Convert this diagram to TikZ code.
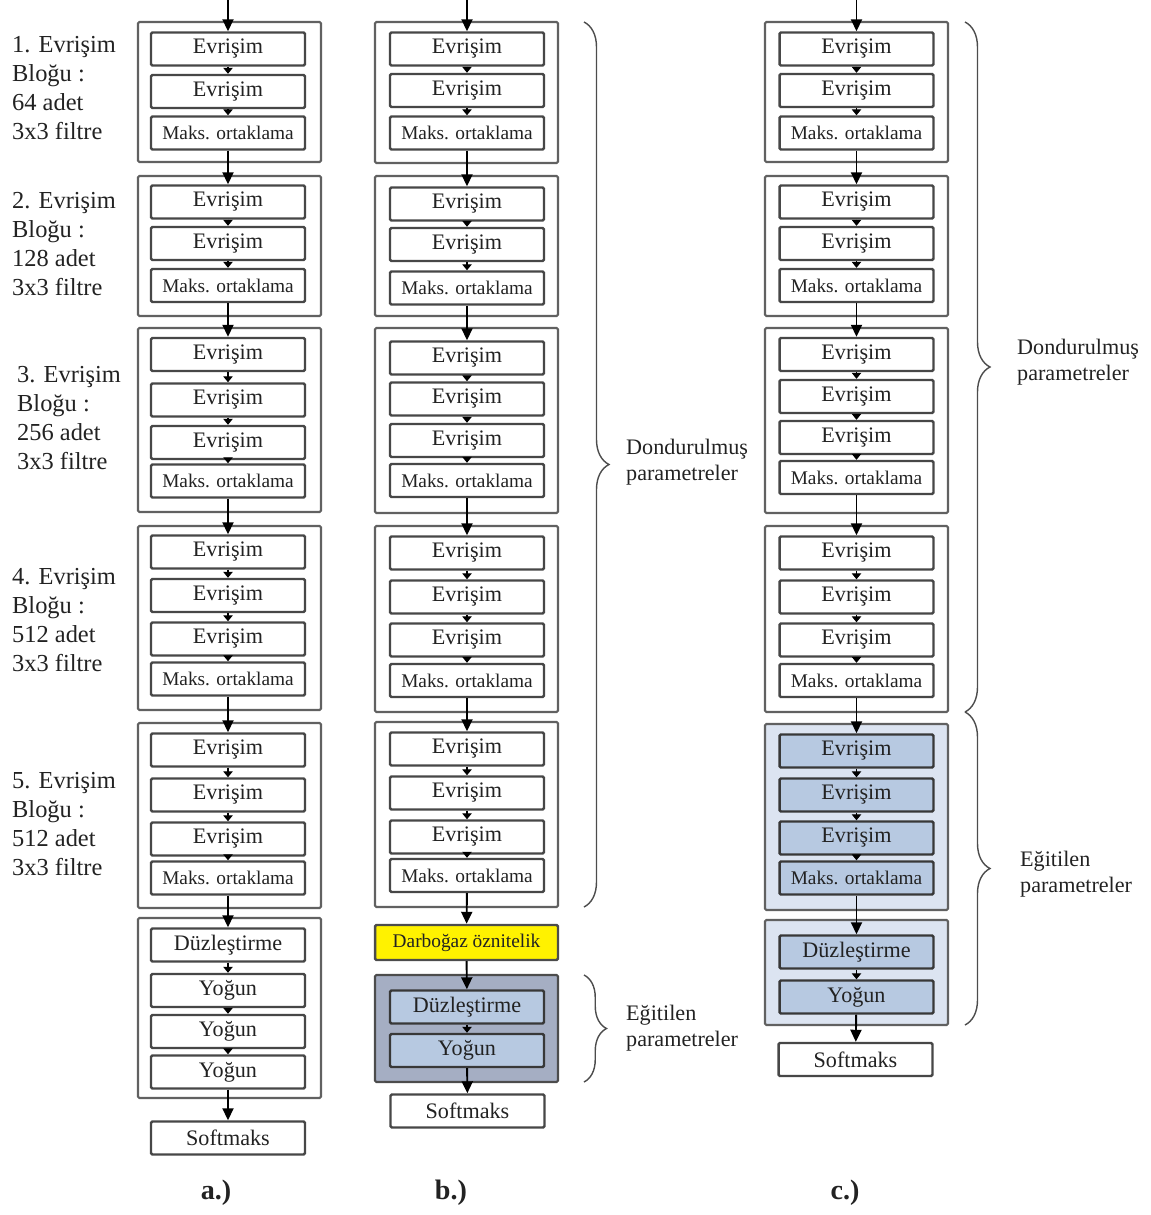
\documentclass[tikz,border=0pt]{standalone}
\usepackage{fontspec}
\setmainfont{Liberation Serif}
\usetikzlibrary{arrows.meta,decorations.pathreplacing}

\definecolor{slate}{HTML}{A5AEC3}
\definecolor{paleblue}{HTML}{DCE4F1}
\definecolor{iceblue}{HTML}{B7C9E1}
\definecolor{ink}{HTML}{222222}

\begin{document}
\begin{tikzpicture}[
  x=0.02cm, y=-0.02cm,
  lay/.style={rectangle, draw=black!72, line width=1.4pt, rounded corners=0.8pt, fill=white, text=ink, minimum width=3.08cm, minimum height=0.66cm, inner sep=0pt, font=\fontsize{12.6}{14}\selectfont},
  pool/.style={lay, font=\fontsize{11}{13}\selectfont},
  blk/.style={rectangle, draw=black!62, line width=1.2pt, rounded corners=0.8pt, fill=white, minimum width=3.66cm, inner sep=0pt},
  arrow/.style={-{Triangle[length=2.4mm, width=2.2mm]}, line width=1.1pt},
  tick/.style={-{Triangle[length=1.2mm, width=1.9mm]}, line width=0.6pt},
  note/.style={anchor=west, align=left, text=ink, font=\fontsize{13.9}{16.5}\selectfont},
  side/.style={anchor=west, align=left, text=ink, font=\fontsize{12.6}{14.5}\selectfont},
  brace/.style={decorate, decoration={brace, amplitude=0.5cm}, draw=black!70, line width=0.8pt},
  tag/.style={font=\fontsize{16}{18}\selectfont\bfseries, text=ink},
]
\useasboundingbox (0,0) rectangle (1151,1215);

% === a.) full network ===
\node[blk, minimum height=2.8cm] (aB1) at (229.5,92) {};
\node[blk, minimum height=2.8cm] (aB2) at (229.5,246) {};
\node[blk, minimum height=3.68cm] (aB3) at (229.5,420) {};
\node[blk, minimum height=3.68cm] (aB4) at (229.5,618) {};
\node[blk, minimum height=3.7cm] (aB5) at (229.5,815.5) {};
\node[blk, minimum height=3.6cm] (aB6) at (229.5,1008) {};

\node[lay] (a11) at (228,49) {Evrişim};
\node[lay] (a12) at (228,91.5) {Evrişim};
\node[pool] (a13) at (228,133) {Maks. ortaklama};
\node[lay] (a21) at (228,202) {Evrişim};
\node[lay] (a22) at (228,243.5) {Evrişim};
\node[pool] (a23) at (228,285.5) {Maks. ortaklama};
\node[lay] (a31) at (228,354.5) {Evrişim};
\node[lay] (a32) at (228,400) {Evrişim};
\node[lay] (a33) at (228,442.5) {Evrişim};
\node[pool] (a34) at (228,481) {Maks. ortaklama};
\node[lay] (a41) at (228,552) {Evrişim};
\node[lay] (a42) at (228,595.5) {Evrişim};
\node[lay] (a43) at (228,639) {Evrişim};
\node[pool] (a44) at (228,679) {Maks. ortaklama};
\node[lay] (a51) at (228,750) {Evrişim};
\node[lay] (a52) at (228,795) {Evrişim};
\node[lay] (a53) at (228,839) {Evrişim};
\node[pool] (a54) at (228,878) {Maks. ortaklama};
\node[lay] (a61) at (228,945) {Düzleştirme};
\node[lay] (a62) at (228,990.5) {Yoğun};
\node[lay] (a63) at (228,1031.5) {Yoğun};
\node[lay] (a64) at (228,1072) {Yoğun};
\node[lay] (asm) at (228,1138) {Softmaks};
\coordinate (ain) at (228,0);

\draw[tick] (a11) -- (a12); \draw[tick] (a12) -- (a13);
\draw[tick] (a21) -- (a22); \draw[tick] (a22) -- (a23);
\draw[tick] (a31) -- (a32); \draw[tick] (a32) -- (a33); \draw[tick] (a33) -- (a34);
\draw[tick] (a41) -- (a42); \draw[tick] (a42) -- (a43); \draw[tick] (a43) -- (a44);
\draw[tick] (a51) -- (a52); \draw[tick] (a52) -- (a53); \draw[tick] (a53) -- (a54);
\draw[tick] (a61) -- (a62); \draw[tick] (a62) -- (a63); \draw[tick] (a63) -- (a64);
\draw[arrow] (ain) -- (a11);
\draw[arrow] (a13) -- (a21);
\draw[arrow] (a23) -- (a31);
\draw[arrow] (a34) -- (a41);
\draw[arrow] (a44) -- (a51);
\draw[arrow] (a54) -- (a61);
\draw[arrow] (a64) -- (asm);

\node[note] at (6,88) {1. Evrişim\\Bloğu :\\64 adet\\3x3 filtre};
\node[note] at (6,244) {2. Evrişim\\Bloğu :\\128 adet\\3x3 filtre};
\node[note] at (11,418) {3. Evrişim\\Bloğu :\\256 adet\\3x3 filtre};
\node[note] at (6,620) {4. Evrişim\\Bloğu :\\512 adet\\3x3 filtre};
\node[note] at (6,824.5) {5. Evrişim\\Bloğu :\\512 adet\\3x3 filtre};
\node[tag] at (216,1193) {a.)};

% === b.) bottleneck features ===
\node[blk, minimum height=2.82cm] (bB1) at (466.5,92.5) {};
\node[blk, minimum height=2.8cm] (bB2) at (466.5,246) {};
\node[blk, minimum height=3.7cm] (bB3) at (466.5,420.5) {};
\node[blk, minimum height=3.72cm] (bB4) at (466.5,619) {};
\node[blk, minimum height=3.7cm] (bB5) at (466.5,814.5) {};
\node[blk, fill=slate, draw=black!70, minimum height=2.14cm] (bB6) at (466.5,1028.5) {};

\node[lay] (b11) at (467,49) {Evrişim};
\node[lay] (b12) at (467,90.5) {Evrişim};
\node[pool] (b13) at (467,133) {Maks. ortaklama};
\node[lay] (b21) at (467,204) {Evrişim};
\node[lay] (b22) at (467,244.5) {Evrişim};
\node[pool] (b23) at (467,288) {Maks. ortaklama};
\node[lay] (b31) at (467,358) {Evrişim};
\node[lay] (b32) at (467,399) {Evrişim};
\node[lay] (b33) at (467,440.5) {Evrişim};
\node[pool] (b34) at (467,480.5) {Maks. ortaklama};
\node[lay] (b41) at (467,553) {Evrişim};
\node[lay] (b42) at (467,597) {Evrişim};
\node[lay] (b43) at (467,640) {Evrişim};
\node[pool] (b44) at (467,680.5) {Maks. ortaklama};
\node[lay] (b51) at (467,749) {Evrişim};
\node[lay] (b52) at (467,793) {Evrişim};
\node[lay] (b53) at (467,837) {Evrişim};
\node[pool] (b54) at (467,875.5) {Maks. ortaklama};
\node[pool, fill=yellow, draw=black!70, minimum width=3.66cm, minimum height=0.7cm] (bneck) at (466.5,942.5) {Darboğaz öznitelik};
\node[lay, fill=iceblue, draw=black!78] (b61) at (467,1007) {Düzleştirme};
\node[lay, fill=iceblue, draw=black!78] (b62) at (467,1050.5) {Yoğun};
\node[lay] (bsm) at (467.5,1111) {Softmaks};
\coordinate (bin) at (467,0);

\draw[tick] (b11) -- (b12); \draw[tick] (b12) -- (b13);
\draw[tick] (b21) -- (b22); \draw[tick] (b22) -- (b23);
\draw[tick] (b31) -- (b32); \draw[tick] (b32) -- (b33); \draw[tick] (b33) -- (b34);
\draw[tick] (b41) -- (b42); \draw[tick] (b42) -- (b43); \draw[tick] (b43) -- (b44);
\draw[tick] (b51) -- (b52); \draw[tick] (b52) -- (b53); \draw[tick] (b53) -- (b54);
\draw[tick] (b61) -- (b62);
\draw[arrow] (bin) -- (b11);
\draw[arrow] (b13) -- (b21);
\draw[arrow] (b23) -- (b31);
\draw[arrow] (b34) -- (b41);
\draw[arrow] (b44) -- (b51);
\draw[arrow] (b54) -- (bneck);
\draw[arrow] (bneck) -- (b61);
\draw[arrow] (b62) -- (bsm);

\coordinate (bf1) at (584,22);
\coordinate (bf2) at (584,907);
\coordinate (bt1) at (584,975);
\coordinate (bt2) at (584,1082);
\draw[brace] (bf1) -- (bf2);
\draw[brace, decoration={brace, amplitude=0.45cm}] (bt1) -- (bt2);
\node[side] at (620,462) {Dondurulmuş\\parametreler};
\node[side] at (620,1028) {Eğitilen\\parametreler};
\node[tag] at (451,1193) {b.)};

% === c.) fine-tuning ===
\node[blk, minimum height=2.8cm] (cB1) at (856.5,92) {};
\node[blk, minimum height=2.8cm] (cB2) at (856.5,246) {};
\node[blk, minimum height=3.7cm] (cB3) at (856.5,420.5) {};
\node[blk, minimum height=3.72cm] (cB4) at (856.5,619) {};
\node[blk, fill=paleblue, minimum height=3.72cm] (cB5) at (856.5,817) {};
\node[blk, fill=paleblue, minimum height=2.1cm] (cB6) at (856.5,972.5) {};

\node[lay] (c11) at (856.5,49) {Evrişim};
\node[lay] (c12) at (856.5,90.5) {Evrişim};
\node[pool] (c13) at (856.5,133) {Maks. ortaklama};
\node[lay] (c21) at (856.5,202) {Evrişim};
\node[lay] (c22) at (856.5,243.5) {Evrişim};
\node[pool] (c23) at (856.5,285.5) {Maks. ortaklama};
\node[lay] (c31) at (856.5,354.5) {Evrişim};
\node[lay] (c32) at (856.5,396.5) {Evrişim};
\node[lay] (c33) at (856.5,437.5) {Evrişim};
\node[pool] (c34) at (856.5,477.5) {Maks. ortaklama};
\node[lay] (c41) at (856.5,553) {Evrişim};
\node[lay] (c42) at (856.5,597) {Evrişim};
\node[lay] (c43) at (856.5,640) {Evrişim};
\node[pool] (c44) at (856.5,680.5) {Maks. ortaklama};
\node[lay, fill=iceblue, draw=black!78] (c51) at (856.5,751) {Evrişim};
\node[lay, fill=iceblue, draw=black!78] (c52) at (856.5,795) {Evrişim};
\node[lay, fill=iceblue, draw=black!78] (c53) at (856.5,838) {Evrişim};
\node[pool, fill=iceblue, draw=black!78] (c54) at (856.5,878) {Maks. ortaklama};
\node[lay, fill=iceblue, draw=black!78] (c61) at (856.5,952) {Düzleştirme};
\node[lay, fill=iceblue, draw=black!78] (c62) at (856.5,997) {Yoğun};
\node[lay] (csm) at (855.5,1059.5) {Softmaks};
\coordinate (cin) at (856.5,0);

\draw[tick] (c11) -- (c12); \draw[tick] (c12) -- (c13);
\draw[tick] (c21) -- (c22); \draw[tick] (c22) -- (c23);
\draw[tick] (c31) -- (c32); \draw[tick] (c32) -- (c33); \draw[tick] (c33) -- (c34);
\draw[tick] (c41) -- (c42); \draw[tick] (c42) -- (c43); \draw[tick] (c43) -- (c44);
\draw[tick] (c51) -- (c52); \draw[tick] (c52) -- (c53); \draw[tick] (c53) -- (c54);
\draw[tick] (c61) -- (c62);
\draw[arrow] (cin) -- (c11);
\draw[arrow] (c13) -- (c21);
\draw[arrow] (c23) -- (c31);
\draw[arrow] (c34) -- (c41);
\draw[arrow] (c44) -- (c51);
\draw[arrow] (c54) -- (c61);
\draw[arrow] (c62) -- (csm);

\coordinate (cf1) at (965,22);
\coordinate (cf2) at (965,712);
\coordinate (ct1) at (965,712);
\coordinate (ct2) at (965,1025);
\draw[brace] (cf1) -- (cf2);
\draw[brace] (ct1) -- (ct2);
\node[side] at (1011,362) {Dondurulmuş\\parametreler};
\node[side] at (1014,874) {Eğitilen\\parametreler};
\node[tag] at (845,1193) {c.)};

\end{tikzpicture}
\end{document}
